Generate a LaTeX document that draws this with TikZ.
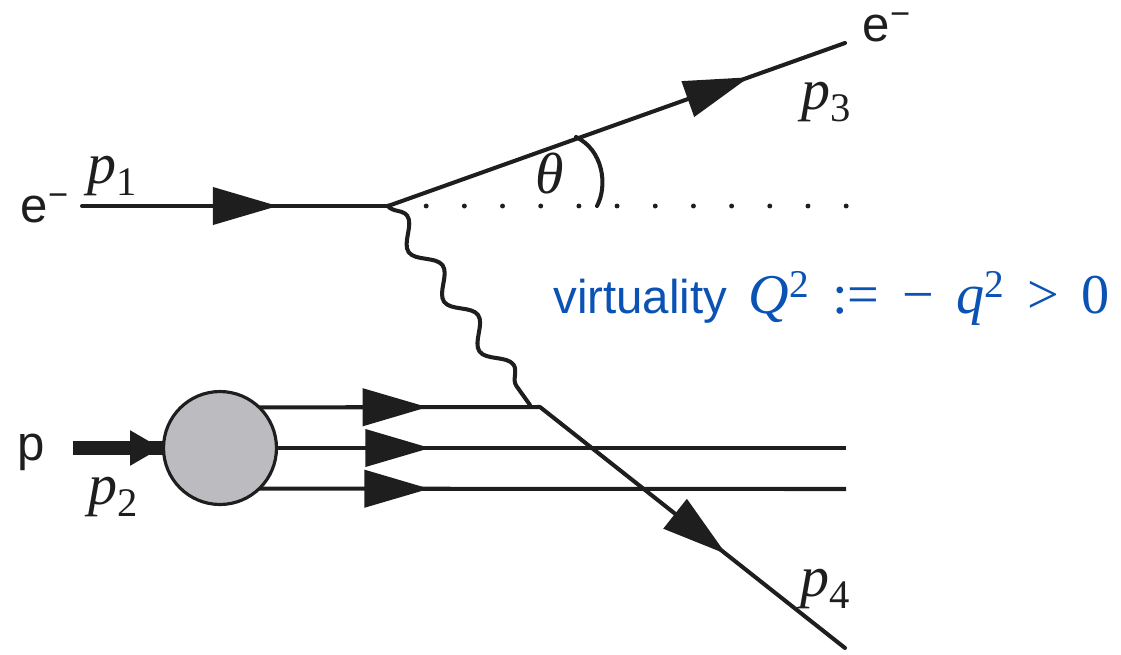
\documentclass[tikz,border=0pt]{standalone}
\usepackage{fontspec}
\setmainfont{Liberation Sans}
\newfontfamily\tms{Liberation Serif}
\usetikzlibrary{arrows.meta,decorations.markings,decorations.pathmorphing}
\pgfdeclarelayer{background}
\pgfsetlayers{background,main}
\definecolor{ink}{RGB}{30,30,30}
\definecolor{blobgray}{RGB}{187,187,192}
\definecolor{qblue}{RGB}{10,82,180}
\newcommand{\gap}{\hspace{0.4em}}
\begin{document}
\begin{tikzpicture}[x=0.02cm,y=-0.02cm, line cap=round, line join=round,
  fline/.style={draw=ink, line width=2.3pt},
  midarrow/.style={postaction={decorate}, decoration={markings,
      mark=at position #1 with {\arrow[ink]{Triangle[length=1.3cm,width=0.74cm]}}}},
  parrow/.style={postaction={decorate}, decoration={markings,
      mark=at position #1 with {\arrow[ink]{Triangle[length=0.62cm,width=0.66cm]}}}},
  lab/.style={font=\fontsize{28}{34}\selectfont, text=ink, inner sep=0pt},
  mlab/.style={font=\tms\fontsize{33}{38}\selectfont, text=ink, inner sep=0pt},
]
\useasboundingbox (0,0) rectangle (1121,654);
% points
\coordinate (eIn) at (82,206);
\coordinate (v) at (388,206);
\coordinate (eOut) at (845,43);
\coordinate (dEnd) at (850,206);
\coordinate (qv) at (540,407);
\coordinate (pe) at (530,405);
\coordinate (p4e) at (845,648);
\coordinate (q2e) at (846,448);
\coordinate (q3e) at (846,489);
\coordinate (pIn) at (73,448);
\coordinate (thA) at (576,137);
\coordinate (thB) at (597,206);
% proton blob
\node[circle, draw=ink, line width=1.8pt, fill=blobgray, minimum size=2.26cm,
      inner sep=0pt, outer sep=0pt] (blob) at (220,448) {};
% electron lines
\draw[fline, midarrow=0.64] (eIn) -- (v);
\draw[fline, midarrow=0.79] (v) -- (eOut);
% dotted reference line
\draw[draw=ink, line width=2.8pt, dash pattern=on 0pt off 21.73pt] (v) -- (dEnd);
% angle
\draw[fline] (thA) .. controls (603,150) and (608,185) .. (thB);
% photon
\draw[fline, decorate, decoration={snake, amplitude=0.2cm, segment length=1.22cm}] (v) -- (pe);
% quark lines
\begin{pgfonlayer}{background}
\draw[draw=ink, line width=8pt, parrow=0.6] (pIn) -- (blob.center);
\draw[fline, midarrow=0.6] (blob.46) -- (qv);
\draw[fline, midarrow=0.27] (blob.0) -- (q2e);
\draw[fline, midarrow=0.29] (blob.-46) -- (q3e);
\end{pgfonlayer}
\draw[fline, midarrow=0.61] (qv) -- (p4e);
% labels
\node[lab] (eInL) at (45,208) {e\textsuperscript{−}};
\node[mlab] (p1L) at (113,176) {\itshape p\upshape\textsubscript{1}};
\node[lab] (eOutL) at (887,27) {e\textsuperscript{−}};
\node[mlab] (p3L) at (827,102) {\itshape p\upshape\textsubscript{3}};
\node[mlab] (thL) at (550,174) {\itshape θ};
\node[lab] (pL) at (31,452) {p};
\node[mlab] (p2L) at (114,497) {\itshape p\upshape\textsubscript{2}};
\node[mlab] (p4L) at (826,589) {\itshape p\upshape\textsubscript{4}};
\node[text=qblue, font=\fontsize{27}{32}\selectfont, anchor=base west, inner sep=0pt]
  (virt) at (553,313) {virtuality\hspace{0.45em}{\tms\fontsize{32}{38}\selectfont\itshape Q\upshape\textsuperscript{2}\gap:=\gap−\gap\itshape q\upshape\textsuperscript{2}\gap>\gap0}};
\end{tikzpicture}
\end{document}
